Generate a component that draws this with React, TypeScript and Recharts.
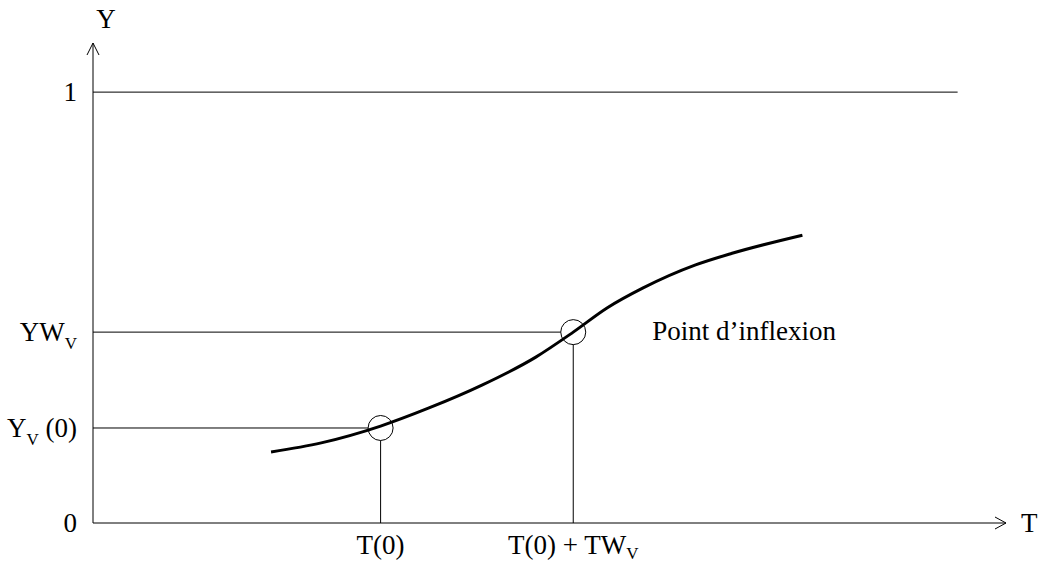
import React from 'react';
import {
  ComposedChart,
  Line,
  XAxis,
  YAxis,
  ReferenceLine,
  ReferenceDot,
} from 'recharts';

// Schematic logistic-like curve (T in 0..100, Y in 0..1)
const curveT = [19.5, 25.0, 31.5, 36.8, 42.6, 48.5, 52.6, 56.3, 60.2, 66.0, 70.0, 77.7];
const curveY = [0.165, 0.186, 0.225, 0.267, 0.32, 0.385, 0.443, 0.499, 0.545, 0.599, 0.626, 0.668];

// key points
const T0 = 31.5;
const TW = 52.6;
const Y0 = 0.2205;
const YW = 0.443;
const ONE_LINE_END = 94.7;

const xTicks = [T0, TW];
const xTickLabels = [
  { main: 'T(0)', sub: '', after: '' },
  { main: 'T(0) + TW', sub: 'V', after: '' },
];

const yTicks = [0, Y0, YW, 1];
const yTickLabels = [
  { main: '0', sub: '', after: '' },
  { main: 'Y', sub: 'V', after: ' (0)' },
  { main: 'YW', sub: 'V', after: '' },
  { main: '1', sub: '', after: '' },
];

const curve = curveT.map((t, i) => ({ t, y: curveY[i] }));

const FONT = '"Liberation Serif", "Times New Roman", serif';
const FS = 27;
const SUB_FS = 17;
// circle radius in data units (12.5px)
const RX = 1.37;
const RY = 0.029;

type Parts = { main: string; sub: string; after: string };

const SubText = ({ x, y, anchor, parts, subDy = 8 }: { x: number; y: number; anchor: 'start' | 'middle' | 'end'; parts: Parts; subDy?: number }) => (
  <text x={x} y={y} textAnchor={anchor} fontFamily={FONT} fontSize={FS} fill="#000">
    <tspan>{parts.main}</tspan>
    {parts.sub && (
      <tspan dy={subDy} fontSize={SUB_FS}>
        {parts.sub}
      </tspan>
    )}
    {parts.after && <tspan dy={-subDy}>{parts.after}</tspan>}
  </text>
);

const XTick = (props: any) => {
  const { x, y, payload } = props;
  const idx = xTicks.indexOf(payload.value);
  if (idx < 0) return null;
  return <SubText x={x} y={y + 23} anchor="middle" parts={xTickLabels[idx]} subDy={5} />;
};

const YTick = (props: any) => {
  const { x, y, payload } = props;
  const idx = yTicks.indexOf(payload.value);
  if (idx < 0) return null;
  return <SubText x={x} y={y + 9} anchor="end" parts={yTickLabels[idx]} />;
};

const XArrow = (props: any) => {
  const vb = props.viewBox || {};
  const tx = vb.x + vb.width;
  const ty = vb.y;
  return (
    <g>
      <path d={`M${tx - 11},${ty - 6} L${tx},${ty} L${tx - 11},${ty + 6}`} fill="none" stroke="#000" strokeWidth={1} />
      <text x={tx + 15} y={ty + 9} fontFamily={FONT} fontSize={FS} fill="#000">
        T
      </text>
    </g>
  );
};

const YArrow = (props: any) => {
  const vb = props.viewBox || {};
  const tx = vb.x + vb.width;
  const ty = vb.y;
  return (
    <g>
      <path d={`M${tx - 6},${ty + 12} L${tx},${ty} L${tx + 6},${ty + 12}`} fill="none" stroke="#000" strokeWidth={1} />
      <text x={tx + 13} y={ty - 15} textAnchor="middle" fontFamily={FONT} fontSize={FS} fill="#000">
        Y
      </text>
    </g>
  );
};

const InflexionLabel = (props: any) => {
  const vb = props.viewBox || {};
  const cx = vb.x + (vb.width || 0) / 2;
  const cy = vb.y + (vb.height || 0) / 2;
  return (
    <text x={cx + 79} y={cy + 8} fontFamily={FONT} fontSize={FS} fill="#000">
      Point d’inflexion
    </text>
  );
};

export default function App() {
  const thin = { stroke: '#000', strokeWidth: 1 };
  return (
    <div style={{ position: 'absolute', left: 0, top: 0, background: '#fff' }}>
      <ComposedChart
        width={1042}
        height={564}
        data={curve}
        margin={{ top: 43, right: 36, bottom: 11, left: 5 }}
      >
        <XAxis
          dataKey="t"
          type="number"
          domain={[0, 100]}
          ticks={xTicks}
          tick={<XTick />}
          tickLine={false}
          axisLine={thin}
          height={30}
          allowDataOverflow
          label={{ content: XArrow }}
        />
        <YAxis
          type="number"
          domain={[0, 1.114]}
          ticks={yTicks}
          tick={<YTick />}
          tickLine={false}
          tickMargin={10}
          axisLine={thin}
          width={88}
          allowDataOverflow
          label={{ content: YArrow }}
        />
        <ReferenceLine segment={[{ x: 0, y: 1 }, { x: ONE_LINE_END, y: 1 }]} {...thin} />
        <ReferenceLine segment={[{ x: 0, y: YW }, { x: TW - RX, y: YW }]} {...thin} />
        <ReferenceLine segment={[{ x: 0, y: Y0 }, { x: T0 - RX, y: Y0 }]} {...thin} />
        <ReferenceLine segment={[{ x: TW, y: 0 }, { x: TW, y: YW - RY }]} {...thin} />
        <ReferenceLine segment={[{ x: T0, y: 0 }, { x: T0, y: Y0 - RY }]} {...thin} />
        <Line
          dataKey="y"
          type="monotone"
          stroke="#000"
          strokeWidth={3}
          dot={false}
          activeDot={false}
          isAnimationActive={false}
        />
        <ReferenceDot x={T0} y={Y0} r={12.5} fill="none" stroke="#000" strokeWidth={1} />
        <ReferenceDot
          x={TW}
          y={YW}
          r={12.5}
          fill="none"
          stroke="#000"
          strokeWidth={1}
          label={{ content: InflexionLabel }}
        />
      </ComposedChart>
    </div>
  );
}
